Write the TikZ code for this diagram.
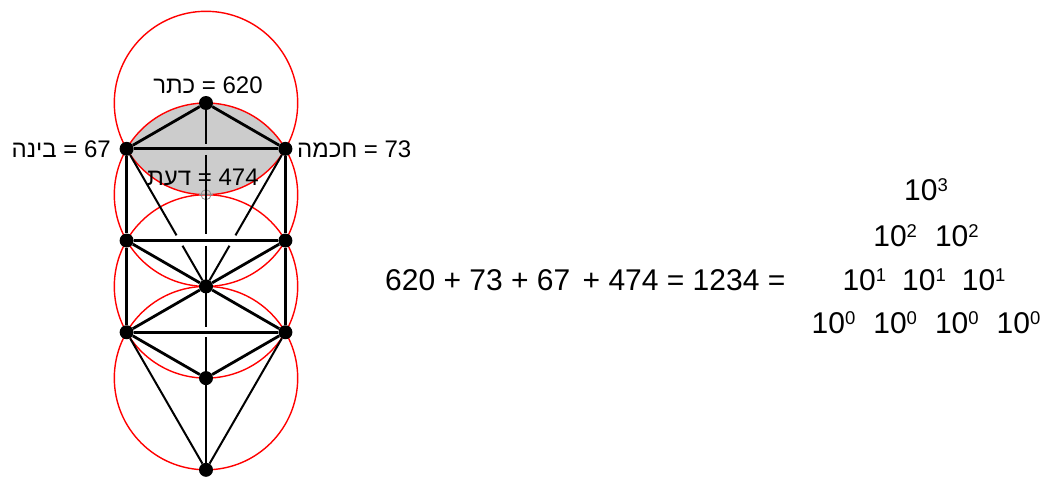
\documentclass[tikz,border=0pt]{standalone}
\usepackage{fontspec}
\setmainfont{Liberation Sans}
\newfontfamily\heb[Script=Hebrew]{Liberation Sans}
\TeXXeTstate=1
\usetikzlibrary{calc}
\newcommand\hw[1]{{\heb\beginR #1\endR}}
\newcommand\sx[1]{\raisebox{8.8pt}{\fontsize{18.5}{18.5}\selectfont #1}}
\begin{document}
\begin{tikzpicture}[x=1pt,y=-1pt,
  dot/.style={circle,fill=black,inner sep=0pt,minimum size=14pt},
  ring/.style={draw=red,line width=1.4pt},
  bold/.style={line width=2.8pt},
  fine/.style={line width=2pt},
  lbl/.style={font=\fontsize{24}{28}\selectfont,inner sep=0pt},
  big/.style={font=\fontsize{30}{34}\selectfont,inner sep=0pt}]
\useasboundingbox (0,0) rectangle (1047,490);
% circle centres
\coordinate (cK) at (206,103);
\coordinate (D)  at (206,194.7);
\coordinate (cT) at (206,286.4);
\coordinate (cY) at (206,378.1);
% lens
\begin{scope}
  \clip (cK) circle (91.7pt);
  \fill[black!20] (D) circle (91.7pt);
\end{scope}
% circles
\draw[ring] (cK) circle (91.7pt);
\draw[ring] (D) circle (91.7pt);
\draw[ring] (cT) circle (91.7pt);
\draw[ring] (cY) circle (91.7pt);
% daat marker
\draw[black!45,line width=0.8pt] (D) circle (5pt);
\draw[black!45,line width=0.8pt] ($(D)+(-7,0)$) -- ($(D)+(7,0)$);
% nodes
\node[dot] (K)  at (cK) {};
\node[dot] (B)  at (126.6,148.85) {};
\node[dot] (C)  at (285.4,148.85) {};
\node[dot] (G)  at (126.6,240.55) {};
\node[dot] (H)  at (285.4,240.55) {};
\node[dot] (T)  at (cT) {};
\node[dot] (O)  at (126.6,332.25) {};
\node[dot] (N)  at (285.4,332.25) {};
\node[dot] (Y)  at (cY) {};
\node[dot] (M)  at (206,469.8) {};
% crossing points
\coordinate (X1) at (206,148.85);
\coordinate (X2) at (206,240.55);
\coordinate (X3) at (206,332.25);
\coordinate (P1) at ($(B)!2/3!(T)$);
\coordinate (P2) at ($(C)!2/3!(T)$);
% lines
\draw[bold] (K) -- (B);
\draw[bold] (K) -- (C);
\draw[bold] (B) -- (C);
\draw[bold] (B) -- (G);
\draw[bold] (G) -- (O);
\draw[bold] (C) -- (H);
\draw[bold] (H) -- (N);
\draw[bold] (G) -- (H);
\draw[bold] (O) -- (N);
\draw[bold] (G) -- (T);
\draw[bold] (H) -- (T);
\draw[bold] (O) -- (T);
\draw[bold] (N) -- (T);
\draw[bold] (O) -- (Y);
\draw[bold] (N) -- (Y);
\draw[fine] (O) -- (M);
\draw[fine] (N) -- (M);
\draw[fine,shorten >=6pt] (B) -- (P1);
\draw[fine,shorten <=6pt] (P1) -- (T);
\draw[fine,shorten >=6pt] (C) -- (P2);
\draw[fine,shorten <=6pt] (P2) -- (T);
\draw[bold,shorten >=5pt] (K) -- (X1);
\draw[bold,shorten <=6pt,shorten >=7pt] (X1) -- (X2);
\draw[bold,shorten <=5pt,shorten >=5pt] (X2) -- (X3);
\draw[bold,shorten <=5pt] (X3) -- (M);
% labels
\node[lbl,anchor=base] (lk) at (208,93) {\hw{כתר} = 620};
\node[lbl,anchor=base east] (lb) at (111,157) {\hw{בינה} = 67};
\node[lbl,anchor=base west] (lc) at (297,157) {\hw{חכמה} = 73};
\node[lbl,anchor=base] (ld) at (203,185) {\hw{דעת} = 474};
% equation
\node[big,anchor=base west] (eq) at (385,290.3) {620 + 73 + 67\hspace{4pt} + 474 = 1234 =};
\node[big,anchor=base] (r1) at (926,200) {10\sx{3}};
\node[big,anchor=base] (r2) at (926,246) {10\sx{2}\hspace{18pt}10\sx{2}};
\node[big,anchor=base] (r3) at (924,290.3) {10\sx{1}\hspace{16pt}10\sx{1}\hspace{16pt}10\sx{1}};
\node[big,anchor=base] (r4) at (926,333.3) {10\sx{0}\hspace{18pt}10\sx{0}\hspace{18pt}10\sx{0}\hspace{18pt}10\sx{0}};
\end{tikzpicture}
\end{document}
